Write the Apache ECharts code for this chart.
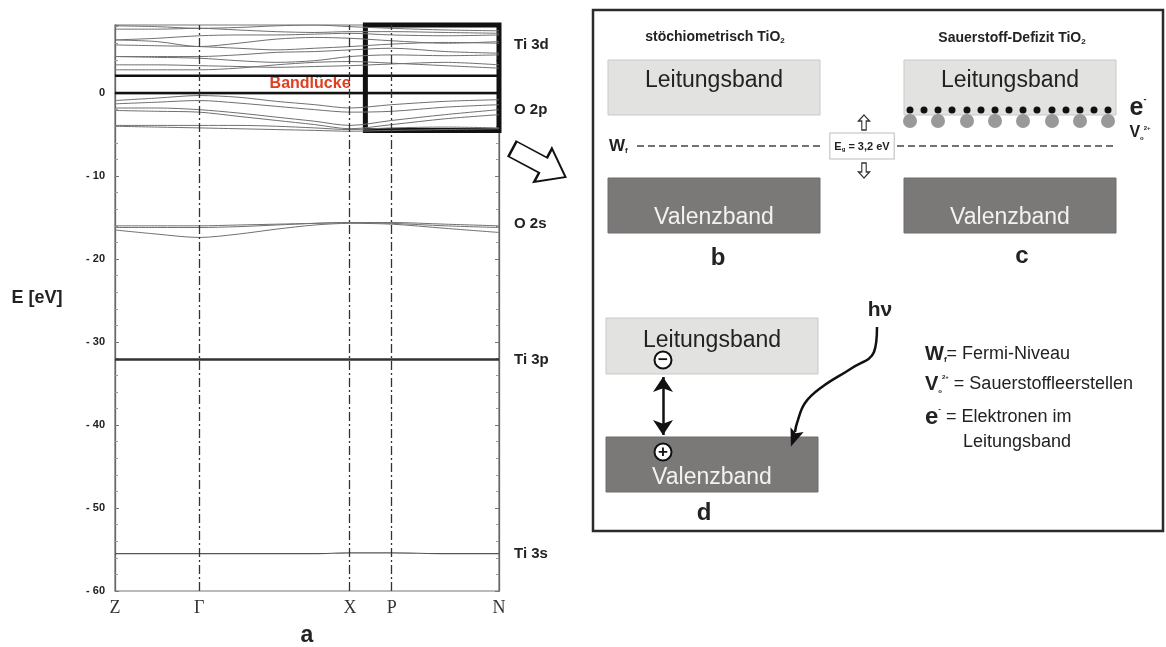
<!DOCTYPE html>
<html><head><meta charset="utf-8">
<script src="https://cdn.jsdelivr.net/npm/echarts@6/dist/echarts.min.js"></script>
<style>html,body{margin:0;padding:0;background:#fff}#c{width:1166px;height:647px}</style>
</head><body><div id="c"></div>
<script>
// ---------- panel a: band structure ----------
const kPath = [0, 0.219, 0.612, 0.721, 1.0];
const kNames = ['Z', 'Γ', 'X', 'P', 'N'];
const kSamples = [0, 0.11, 0.219, 0.32, 0.42, 0.52, 0.612, 0.721, 0.86, 1.0];
const cbHeavy = [2.09, 2.09, 2.09, 2.09, 2.09, 2.09, 2.09, 2.09, 2.09, 2.09];
const cbThin = [
  [2.8, 2.8, 2.8, 3.0, 3.4, 3.7, 3.8, 3.6, 3.3, 3.0],
  [3.4, 3.4, 3.3, 3.2, 3.1, 3.2, 3.3, 3.5, 3.7, 3.4],
  [4.4, 4.3, 4.2, 3.9, 3.7, 3.9, 4.4, 4.6, 4.5, 4.6],
  [4.4, 4.4, 4.4, 4.6, 4.9, 5.0, 5.2, 5.4, 5.0, 4.8],
  [5.8, 5.7, 5.6, 5.4, 5.2, 5.4, 5.6, 5.9, 6.1, 6.0],
  [6.4, 6.2, 5.6, 6.0, 6.5, 6.7, 6.6, 6.3, 6.0, 6.2],
  [6.4, 6.6, 6.9, 7.0, 7.0, 7.1, 7.2, 7.0, 6.9, 7.0],
  [7.7, 7.7, 7.8, 7.6, 7.4, 7.3, 7.4, 7.4, 7.3, 7.2],
  [8.1, 8.0, 7.8, 7.9, 8.1, 8.2, 8.0, 7.8, 7.6, 7.5]
];
const vbHeavy = [0, 0, 0, 0, 0, 0, 0, 0, 0, 0];
const vbThin = [
  [-0.9, -0.6, -0.3, -0.5, -1.0, -1.4, -1.8, -1.4, -1.0, -0.8],
  [-1.3, -1.1, -0.9, -1.2, -1.6, -2.0, -2.3, -2.2, -1.7, -1.4],
  [-1.8, -1.8, -2.0, -2.4, -2.9, -3.4, -3.9, -3.3, -2.6, -2.0],
  [-2.1, -2.2, -2.3, -2.8, -3.3, -3.8, -4.3, -3.8, -3.1, -2.6],
  [-3.9, -3.9, -3.9, -3.9, -4.0, -4.2, -4.4, -4.2, -4.1, -4.2],
  [-4.0, -4.1, -4.2, -4.3, -4.4, -4.5, -4.6, -4.5, -4.4, -4.3]
];
const o2sBands = [
  [-16.0, -16.0, -16.0, -15.9, -15.8, -15.7, -15.6, -15.6, -15.8, -16.0],
  [-16.2, -16.2, -16.2, -16.1, -15.9, -15.7, -15.6, -15.7, -16.0, -16.2],
  [-16.5, -17.0, -17.4, -17.0, -16.4, -15.9, -15.7, -15.8, -16.3, -16.8]
];
const ti3p = [-32.1, -32.1, -32.1, -32.1, -32.1, -32.1, -32.1, -32.1, -32.1, -32.1];
const ti3s = [-55.5, -55.5, -55.5, -55.5, -55.5, -55.5, -55.4, -55.4, -55.5, -55.5];
const orbitalLabels = ['Ti 3d', 'O 2p', 'O 2s', 'Ti 3p', 'Ti 3s'];
const orbitalE = [5.8, -2.05, -15.8, -32.2, -55.5];
const zoomBox = [0.652, 1.0, 8.25, -4.5];
const yTicks = [-60, -50, -40, -30, -20, -10, 0];

// ---------- panels b, c, d: schematic (units of the right frame) ----------
// [x0, x1, yTop, yBottom, textY, kind, label]
const bandRects = [
  [15, 227, 50, 105, 71, 'cb', 'Leitungsband'],
  [311, 523, 50, 105, 71, 'cb', 'Leitungsband'],
  [15, 227, 168, 223, 208, 'vb', 'Valenzband'],
  [311, 523, 168, 223, 208, 'vb', 'Valenzband'],
  [13, 225, 308, 364, 331, 'cb', 'Leitungsband'],
  [13, 225, 427, 482, 468, 'vb', 'Valenzband']
];
const fermiSegments = [[[44, 136], [229, 136]], [[304, 136], [524, 136]]];
const electronX = [317, 331, 345, 359, 374, 388, 402, 416, 430, 444, 459, 473, 487, 501, 515];
const electronY = 100;
const vacancyX = [317, 345, 374, 402, 430, 459, 487, 515];
const vacancyY = 111;
const photonPath = [[284, 317], [281, 342], [259, 358], [229, 377], [212, 393], [204, 413], [202, 422]];
const excitation = [[70, 367], [70, 425]];

const chart = echarts.init(document.getElementById('c'));
const SANS = 'Liberation Sans, Arial, sans-serif';
const XR = 1, YR = 2; // axes of the right frame

function bandSeries(arr, color, width, z) {
  return {
    type: 'line', xAxisIndex: 0, yAxisIndex: 0, silent: true, animation: false,
    data: kSamples.map((k, i) => [k, arr[i]]), smooth: 0.3, symbol: 'none', z: z,
    lineStyle: { color: color, width: width }
  };
}
function txt(x, y, text, style, left) {
  return {
    value: [x, y],
    label: Object.assign({
      show: true, position: left ? 'right' : 'inside', distance: 0,
      formatter: text, fontFamily: SANS, color: '#222', textBorderWidth: 0, opacity: 1
    }, style)
  };
}

const series = [];
cbThin.forEach(b => series.push(bandSeries(b, '#707070', 1, 2)));
vbThin.forEach(b => series.push(bandSeries(b, '#707070', 1, 2)));
o2sBands.forEach(b => series.push(bandSeries(b, '#707070', 1, 2)));
series.push(bandSeries(cbHeavy, '#111', 2.6, 3));
series.push(bandSeries(vbHeavy, '#111', 2.6, 3));
series.push(bandSeries(ti3p, '#333', 2.4, 3));
series.push(bandSeries(ti3s, '#555', 1.2, 3));

// high-symmetry lines + zoom box
series.push({
  type: 'line', xAxisIndex: 0, yAxisIndex: 0, data: [], silent: true, clip: false, animation: false,
  markLine: {
    symbol: ['none', 'none'], silent: true, animation: false, label: { show: false },
    lineStyle: { color: '#333', width: 1.3, type: [9, 3, 2, 3] },
    data: kPath.slice(1, 4).map(k => ({ xAxis: k }))
  },
  markArea: {
    silent: true, animation: false,
    itemStyle: { color: 'rgba(0,0,0,0)', borderColor: '#111', borderWidth: 5 },
    data: [[{ coord: [zoomBox[0], zoomBox[2]] }, { coord: [zoomBox[1], zoomBox[3]] }]]
  }
});
// orbital labels
series.push({
  type: 'scatter', xAxisIndex: 0, yAxisIndex: 0, symbolSize: 0, clip: false, silent: true, animation: false,
  data: orbitalE.map((e, i) => txt(1.0, e, orbitalLabels[i], { fontSize: 15, fontWeight: 'bold', color: '#222', distance: 15 }, true))
});
// Bandlücke + axis title
series.push({
  type: 'scatter', xAxisIndex: 0, yAxisIndex: 0, symbolSize: 0, clip: false, silent: true, animation: false,
  data: [
    txt(0.508, 1.1, 'Bandlücke', { fontSize: 16, fontWeight: 'bold', color: '#e0401f' }),
    txt(-0.203, -24.7, 'E [eV]', { fontSize: 18, fontWeight: 'bold', color: '#222' })
  ]
});

// ---- right frame ----
series.push({
  type: 'custom', coordinateSystem: 'cartesian2d', xAxisIndex: XR, yAxisIndex: YR, silent: true, animation: false,
  data: bandRects.map(r => [r[0], r[1], r[2], r[3], r[4]]),
  encode: { x: [0, 1], y: [2, 3] },
  renderItem: function (params, api) {
    const r = bandRects[params.dataIndex];
    const p0 = api.coord([r[0], r[2]]);
    const p1 = api.coord([r[1], r[3]]);
    const pt = api.coord([(r[0] + r[1]) / 2, r[4]]);
    const cb = r[5] === 'cb';
    return {
      type: 'group', children: [
        { type: 'rect', shape: { x: p0[0], y: p0[1], width: p1[0] - p0[0], height: p1[1] - p0[1] },
          style: { fill: cb ? '#e2e2e0' : '#7b7978', stroke: cb ? '#c9c9c7' : '#6f6d6c', lineWidth: 1 } },
        { type: 'text', style: { text: r[6], x: pt[0], y: pt[1], align: 'center', verticalAlign: 'middle',
          fill: cb ? '#222' : '#f2f2f2', font: '23px ' + SANS } }
      ]
    };
  }
});
series.push({
  type: 'lines', coordinateSystem: 'cartesian2d', xAxisIndex: XR, yAxisIndex: YR, silent: true, animation: false,
  symbol: ['none', 'none'],
  lineStyle: { color: '#444', width: 1.5, type: [7, 4], opacity: 1 },
  data: fermiSegments.map(s => ({ coords: s }))
});
series.push({
  type: 'scatter', xAxisIndex: XR, yAxisIndex: YR, symbol: 'circle', symbolSize: 14, silent: true, animation: false,
  itemStyle: { color: '#999', opacity: 1 }, data: vacancyX.map(x => [x, vacancyY])
});
series.push({
  type: 'scatter', xAxisIndex: XR, yAxisIndex: YR, symbol: 'circle', symbolSize: 7, silent: true, animation: false,
  itemStyle: { color: '#111', opacity: 1 }, data: electronX.map(x => [x, electronY])
});
// hollow up/down arrows around E_g
series.push({
  type: 'scatter', xAxisIndex: XR, yAxisIndex: YR, silent: true, animation: false,
  symbol: 'path://M5,0 L10,6 L7,6 L7,15 L3,15 L3,6 L0,6 Z', symbolSize: [11, 15],
  itemStyle: { color: '#fff', borderColor: '#333', borderWidth: 1.3, opacity: 1 },
  data: [{ value: [271, 112.5], symbolRotate: 0 }, { value: [271, 160.5], symbolRotate: 180 }]
});
// big hollow arrow from panel a to the frame
series.push({
  type: 'scatter', xAxisIndex: XR, yAxisIndex: YR, silent: true, animation: false, clip: false,
  symbol: 'path://M0,11 L30,11 L30,0 L52,20 L30,40 L30,29 L0,29 Z', symbolSize: [60, 38], symbolRotate: -28,
  itemStyle: { color: '#fff', borderColor: '#111', borderWidth: 2, opacity: 1 },
  data: [[-54, 153]]
});
// photon curve
series.push({
  type: 'line', xAxisIndex: XR, yAxisIndex: YR, silent: true, animation: false, smooth: 0.4, symbol: 'none',
  lineStyle: { color: '#111', width: 2.5 }, data: photonPath
});
series.push({
  type: 'scatter', xAxisIndex: XR, yAxisIndex: YR, silent: true, animation: false,
  symbol: 'path://M5,0 L10,14 L5,11 L0,14 Z', symbolSize: [14, 18], symbolRotate: 160,
  itemStyle: { color: '#111', opacity: 1 }, data: [[201, 428]]
});
// excitation double arrow
series.push({
  type: 'lines', coordinateSystem: 'cartesian2d', xAxisIndex: XR, yAxisIndex: YR, silent: true, animation: false,
  symbol: ['arrow', 'arrow'], symbolSize: 15,
  lineStyle: { color: '#111', width: 2.5, opacity: 1 },
  data: [{ coords: excitation }]
});
// charges
series.push({
  type: 'scatter', xAxisIndex: XR, yAxisIndex: YR, silent: true, animation: false, symbol: 'circle', symbolSize: 17,
  itemStyle: { color: '#fff', borderColor: '#111', borderWidth: 2, opacity: 1 }, z: 5,
  label: { show: true, position: 'inside', color: '#111', fontSize: 17, fontFamily: SANS, fontWeight: 'bold', textBorderWidth: 0 },
  data: [{ value: [70, 350], label: { formatter: '−' } }, { value: [70, 442], label: { formatter: '+' } }]
});
// texts
const sub = (fs, pad) => ({ fontSize: fs, fontWeight: 'bold', fontFamily: SANS, color: '#222', verticalAlign: 'bottom', padding: [pad, 0, 0, 0] });
const sup = (fs, pad) => ({ fontSize: fs, fontWeight: 'bold', fontFamily: SANS, color: '#222', verticalAlign: 'top', padding: [0, 0, pad, 0] });
series.push({
  type: 'scatter', xAxisIndex: XR, yAxisIndex: YR, symbolSize: 0, silent: true, animation: false, clip: false, z: 6,
  data: [
    txt(122, 27, 'stöchiometrisch TiO{s|2}', { fontSize: 14, fontWeight: 'bold', rich: { s: sub(8, 7) } }),
    txt(419, 28, 'Sauerstoff-Defizit TiO{s|2}', { fontSize: 14, fontWeight: 'bold', rich: { s: sub(8, 7) } }),
    txt(16, 136, '{m|W}{s|f}', { rich: { m: { fontSize: 17, fontWeight: 'bold', fontFamily: SANS, color: '#222' }, s: sub(8, 9) } }, true),
    txt(269, 136, '{m|E}{s|g}{m| = 3,2 eV}', {
      backgroundColor: '#fff', borderColor: '#bbb', borderWidth: 1, padding: [7, 4, 6, 4],
      rich: { m: { fontSize: 11, fontWeight: 'bold', fontFamily: SANS, color: '#222' }, s: sub(6, 6) } }),
    txt(545, 98, '{m|e}{p|-}', { rich: { m: { fontSize: 25, fontWeight: 'bold', fontFamily: SANS, color: '#222' }, p: sup(9, 10) } }),
    txt(547, 123, '{m|V}{s|o}{p|2+}', { rich: { m: { fontSize: 16, fontWeight: 'bold', fontFamily: SANS, color: '#222' }, s: sub(6, 8), p: sup(6, 8) } }),
    txt(125, 248, 'b', { fontSize: 24, fontWeight: 'bold' }),
    txt(429, 246, 'c', { fontSize: 24, fontWeight: 'bold' }),
    txt(111, 503, 'd', { fontSize: 24, fontWeight: 'bold' }),
    txt(287, 300, 'hν', { fontSize: 21, fontWeight: 'bold' }),
    txt(332, 344, '{m|W}{s|f}{n|= Fermi-Niveau}', { rich: { m: { fontSize: 20, fontWeight: 'bold', fontFamily: SANS, color: '#222' }, s: sub(8, 10), n: { fontSize: 18, fontFamily: SANS, color: '#222' } } }, true),
    txt(332, 374, '{m|V}{s|o}{p|2+}{n| = Sauerstoffleerstellen}', { rich: { m: { fontSize: 20, fontWeight: 'bold', fontFamily: SANS, color: '#222' }, s: sub(6, 10), p: sup(6, 8), n: { fontSize: 18, fontFamily: SANS, color: '#222' } } }, true),
    txt(332, 407, '{m|e}{p|-}{n| = Elektronen im}', { rich: { m: { fontSize: 24, fontWeight: 'bold', fontFamily: SANS, color: '#222' }, p: sup(8, 10), n: { fontSize: 18, fontFamily: SANS, color: '#222' } } }, true),
    txt(370, 432, 'Leitungsband', { fontSize: 18 }, true)
  ]
});

function nearestName(v) {
  let bi = 0;
  kPath.forEach((k, i) => { if (Math.abs(k - v) < Math.abs(kPath[bi] - v)) bi = i; });
  return kNames[bi];
}

chart.setOption({
  backgroundColor: '#fff',
  animation: false,
  grid: [
    { left: 115, top: 25, width: 384, height: 566, show: true, borderColor: '#777', borderWidth: 1.2, backgroundColor: 'transparent', outerBoundsMode: 'none', containLabel: false },
    { left: 593, top: 10, width: 570, height: 521, show: true, borderColor: '#2b2b2b', borderWidth: 2.5, backgroundColor: 'transparent', outerBoundsMode: 'none', containLabel: false }
  ],
  xAxis: [
    {
      gridIndex: 0, type: 'value', min: 0, max: 1,
      axisLine: { show: true, lineStyle: { color: '#666', width: 1.3 } },
      axisTick: { show: false }, splitLine: { show: false },
      axisLabel: { customValues: kPath, formatter: v => nearestName(v), fontFamily: 'Liberation Serif, serif', fontSize: 18, color: '#333', margin: 8 },
      name: 'a', nameLocation: 'middle', nameGap: 33,
      nameTextStyle: { fontSize: 23, fontWeight: 'bold', fontFamily: SANS, color: '#222' }
    },
    { gridIndex: 1, type: 'value', min: 0, max: 570, show: false }
  ],
  yAxis: [
    {
      gridIndex: 0, type: 'value', min: -60, max: 8.2, interval: 10,
      axisLine: { show: true, lineStyle: { color: '#666', width: 1.3 } },
      axisTick: { show: true, inside: true, length: 4, lineStyle: { color: '#777' } },
      minorTick: { show: true, splitNumber: 5, length: 3, lineStyle: { color: '#999' } },
      splitLine: { show: false },
      axisLabel: {
        customValues: yTicks,
        formatter: v => (v === 0 ? '0' : '- ' + Math.abs(v)),
        fontSize: 11, fontWeight: 'bold', fontFamily: SANS, color: '#222', margin: 10
      }
    },
    {
      gridIndex: 0, type: 'value', min: -60, max: 8.2, interval: 10, position: 'right',
      axisLine: { show: true, lineStyle: { color: '#666', width: 1.3 } },
      axisTick: { show: true, inside: true, length: 4, lineStyle: { color: '#777' } },
      minorTick: { show: true, splitNumber: 5, length: 3, lineStyle: { color: '#999' } },
      splitLine: { show: false }, axisLabel: { show: false }
    },
    { gridIndex: 1, type: 'value', min: 0, max: 521, inverse: true, show: false }
  ],
  series: series
});
</script>
</body></html>
